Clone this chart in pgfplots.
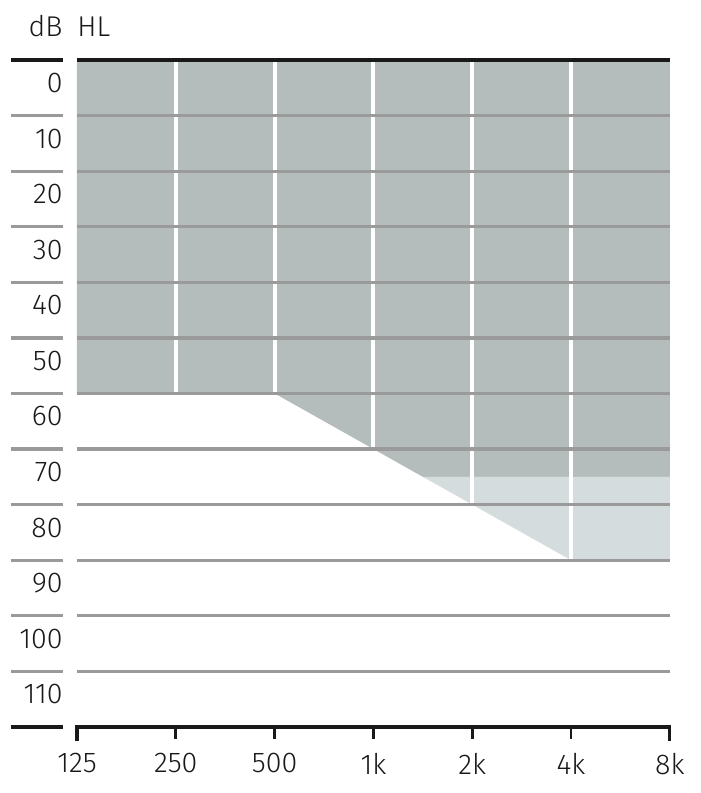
\documentclass[border=0pt]{standalone}
\usepackage{pgfplots}
\pgfplotsset{compat=1.18}
\usepackage{fontspec}
\setmainfont{Fira Sans Light}

\definecolor{shadeA}{RGB}{180,189,188}
\definecolor{shadeB}{RGB}{213,220,221}
\definecolor{gridgray}{RGB}{154,154,154}
\definecolor{ink}{RGB}{25,25,25}

\begin{document}
\begin{tikzpicture}
\begin{axis}[
    scale only axis,
    width=296.5pt, height=333.5pt,
    xmin=0, xmax=6, ymin=0, ymax=120,
    y dir=reverse,
    axis line style={draw=none},
    tick style={draw=none},
    major tick length=0pt,
    xtick={0,1,2,3,4,5,6},
    xticklabels={125,250,500,1k,2k,4k,8k},
    ytick={5,15,25,35,45,55,65,75,85,95,105,115},
    yticklabels={0,10,20,30,40,50,60,70,80,90,100,110},
    xticklabel style={anchor=north, inner sep=0pt, yshift=-13pt},
    yticklabel style={anchor=east, inner sep=0pt, xshift=-7pt, yshift=2.4pt},
    tick label style={font=\fontsize{14.3}{16}\selectfont, text=ink},
    clip=false,
]

% shaded areas
\addplot[fill=shadeA, draw=none] coordinates {
    (0,0) (6,0) (6,75) (3.5,75) (3,70) (2,60) (0,60)} -- cycle;
\addplot[fill=shadeB, draw=none] coordinates {
    (3.5,75) (6,75) (6,90) (5,90) (4,80)} -- cycle;

% white separators inside the shading
\addplot[white, line width=2pt] coordinates {(1,0) (1,60)};
\addplot[white, line width=2pt] coordinates {(2,0) (2,60)};
\addplot[white, line width=2pt] coordinates {(3,0) (3,70)};
\addplot[white, line width=2pt] coordinates {(4,0) (4,80)};
\addplot[white, line width=2pt] coordinates {(5,0) (5,90)};

% grid lines and left stubs
\pgfplotsinvokeforeach{10,20,...,110}{
    \addplot[gridgray, line width=1.65pt] coordinates {(0,#1) (6,#1)};
    \addplot[gridgray, line width=1.65pt] coordinates {(-0.668,#1) (-0.142,#1)};
}

% black top and bottom lines
\addplot[ink, line width=1.65pt] coordinates {(0,0) (6,0)};
\addplot[ink, line width=1.65pt] coordinates {(-0.668,0) (-0.142,0)};
\addplot[ink, line width=1.65pt] coordinates {(-0.668,120) (-0.142,120)};
\addplot[ink, line width=1.65pt, line cap=rect] coordinates {(0,122.16) (0,120) (6,120) (6,122.16)};
\pgfplotsinvokeforeach{1,...,5}{
    \addplot[ink, line width=1.3pt] coordinates {(#1,120) (#1,122.16)};
}

\node[anchor=base east, inner sep=0pt, text=ink, font=\fontsize{14.3}{16}\selectfont] at (axis cs:-0.142,-4.32) {dB};
\node[anchor=base west, inner sep=0pt, text=ink, font=\fontsize{14.3}{16}\selectfont] at (axis cs:0,-4.32) {HL};

\coordinate (pbl) at (axis cs:-0.779,131.9);
\coordinate (ptr) at (axis cs:6.306,-10.80);
\end{axis}
\pgfresetboundingbox
\useasboundingbox (pbl) rectangle (ptr);
\end{tikzpicture}
\end{document}
